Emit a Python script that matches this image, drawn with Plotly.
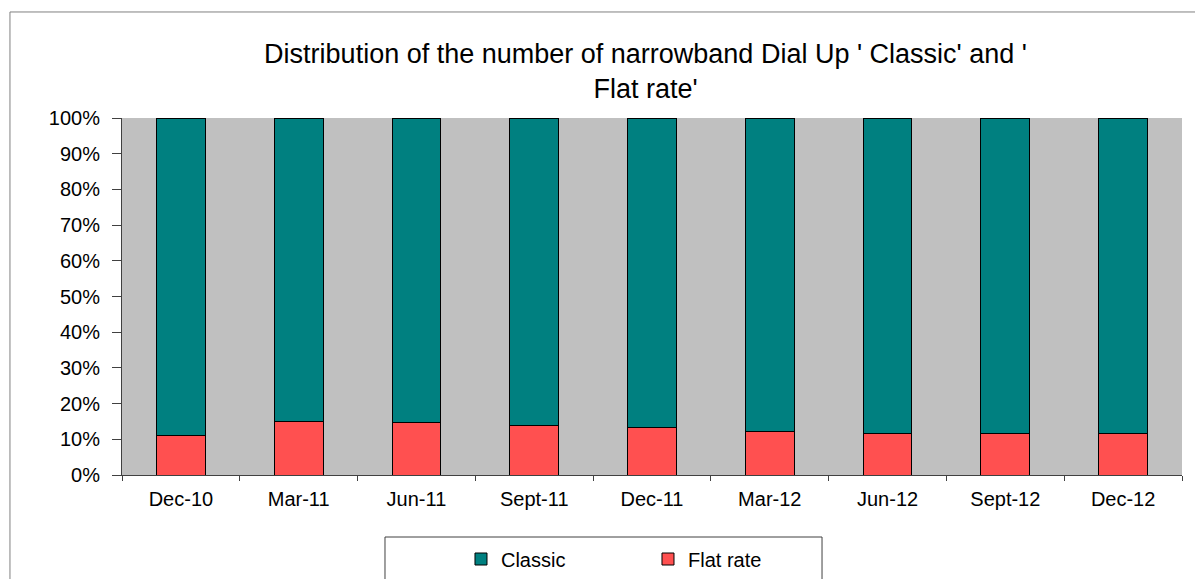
import plotly.graph_objects as go

quarters = ["Dec-10", "Mar-11", "Jun-11", "Sept-11", "Dec-11",
            "Mar-12", "Jun-12", "Sept-12", "Dec-12"]
flat_rate = [11.2, 15.0, 14.7, 14.0, 13.4, 12.1, 11.7, 11.7, 11.7]
classic = [100 - v for v in flat_rate]

fig = go.Figure()
fig.add_trace(go.Bar(
    x=quarters, y=flat_rate, name="Flat rate",
    marker=dict(color="#FF5050", line=dict(color="black", width=1)),
))
fig.add_trace(go.Bar(
    x=quarters, y=classic, name="Classic",
    marker=dict(color="#008080", line=dict(color="black", width=1)),
))

# outer chart frame (Excel-like)
fig.add_shape(type="rect", xref="paper", yref="paper",
              x0=-0.1057, x1=1.03, y0=-0.33, y1=1.297,
              line=dict(color="#808080", width=1), fillcolor="rgba(0,0,0,0)")
# legend box
fig.add_shape(type="rect", xref="paper", yref="paper",
              x0=0.2481, x1=0.6604, y0=-0.33, y1=-0.1737,
              line=dict(color="#404040", width=1), fillcolor="white")

fig.update_layout(
    width=1195, height=571,
    barmode="stack", bargap=0.585,
    plot_bgcolor="#C0C0C0", paper_bgcolor="white",
    margin=dict(l=114, r=21, t=110, b=104, autoexpand=False),
    font=dict(family="Liberation Sans, Arial", size=20, color="black"),
    title=dict(
        text="Distribution of the number of narrowband Dial Up ' Classic' and '<br>Flat rate'",
        x=0.5335, xanchor="center", xref="container",
        y=0.9045, yanchor="top", yref="container",
        font=dict(size=27),
    ),
    showlegend=True,
    legend=dict(
        orientation="h", traceorder="reversed",
        x=0.3198, xanchor="left", y=-0.2353, yanchor="middle",
        borderwidth=0, bgcolor="rgba(0,0,0,0)",
        entrywidth=142, font=dict(size=20),
    ),
    xaxis=dict(
        showline=True, linecolor="#404040", linewidth=1,
        ticks="outside", tickson="boundaries", ticklen=5, tickcolor="#404040",
        ticklabelstandoff=6,
        showgrid=False,
    ),
    yaxis=dict(
        range=[0, 100], dtick=10, ticksuffix="%",
        showline=True, linecolor="#404040", linewidth=1,
        ticks="outside", ticklen=9, tickcolor="#404040",
        ticklabelstandoff=8,
        showgrid=False, zeroline=False,
    ),
)

fig.write_html("out.html")
